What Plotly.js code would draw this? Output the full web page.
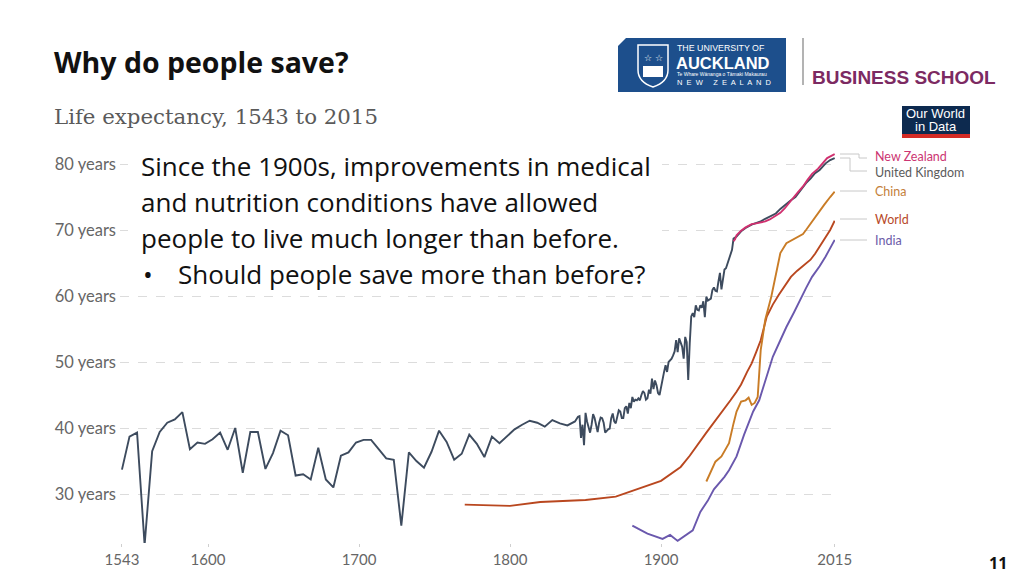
<!DOCTYPE html>
<html>
<head>
<meta charset="utf-8">
<script src="https://cdn.plot.ly/plotly-3.0.1.min.js"></script>
<style>
html,body{margin:0;padding:0;background:#fff;}
#chart{width:1024px;height:576px;}
</style>
</head>
<body>
<div id="chart"></div>
<script>
// ---------------- DATA ----------------
const ukYears = [1543,1548,1553,1558,1563,1568,1573,1578,1583,1588,1593,1598,1603,1608,1613,1618,1623,1628,1633,1638,1643,1648,1653,1658,1663,1668,1673,1678,1683,1688,1693,1698,1703,1708,1713,1718,1723,1728,1733,1738,1743,1748,1753,1758,1763,1768,1773,1778,1783,1788,1793,1798,1803,1808,1813,1818,1823,1828,1833,1838,1843,
1845,1846,1847,1848,1849,1850,1851,1852,1853,1854,1855,1856,1857,1858,1859,1860,1861,1862,1863,1864,1865,1866,1867,1868,1869,1870,1871,1872,1873,1874,1875,1876,1877,1878,1879,1880,1881,1882,1883,1884,1885,1886,1887,1888,1889,1890,1891,1892,1893,1894,1895,1896,1897,1898,1899,1900,1901,1902,1903,1904,1905,1906,1907,1908,1909,1910,1911,1912,1913,1914,1915,1916,1917,1918,1919,1920,1921,1922,1923,1924,1925,1926,1927,1928,1929,1930,1931,1932,1933,1934,1935,1936,1937,1938,1939,1940,1941,1942,1943,1944,1945,1946,1947,1948,1949,1950,1953,1956,1960,1963,1966,1969,1972,1976,1979,1982,1986,1989,1992,1996,1999,2002,2005,2009,2012,2015];
const ukLife = [33.7,38.7,39.3,22.3,36.5,39.4,40.8,41.3,42.4,36.8,37.8,37.6,38.3,39.3,36.7,40.0,33.2,39.4,39.4,33.8,36.2,39.6,38.9,32.8,33.0,32.2,37.0,32.2,31.0,35.8,36.3,37.8,38.2,38.2,36.8,35.4,35.2,25.2,36.3,35.0,34.0,36.4,39.6,37.9,35.2,36.1,39.0,37.6,35.6,38.7,37.7,38.7,39.8,40.5,41.1,40.8,40.2,41.2,40.7,40.4,41.0,
41.7,41.8,38.5,40.5,37.4,42.3,41.0,40.2,39.3,40.5,42.1,41.5,40.3,39.4,40.8,41.6,41.5,40.8,39.3,39.6,39.8,39.9,41.5,42.2,41.0,40.7,41.5,42.7,42.5,41.5,41.5,43.0,43.3,42.2,43.8,43.0,44.7,44.0,44.3,44.2,44.5,44.2,45.0,45.6,45.3,44.3,44.5,45.8,45.2,47.5,45.9,47.2,46.5,45.3,45.0,46.4,47.8,48.5,49.5,48.5,50.0,50.2,50.5,51.0,51.6,53.3,51.5,53.6,52.8,52.3,50.5,53.8,53.0,47.3,52.8,56.9,57.4,56.8,58.6,57.9,57.8,58.6,58.2,59.2,56.8,59.9,59.3,59.5,59.6,60.9,61.3,60.8,60.7,62.2,63.5,61.0,62.5,64.0,64.2,65.0,65.5,66.5,67.0,68.7,68.8,69.0,69.8,70.3,70.8,71.0,71.3,71.7,72.0,72.5,73.2,73.8,74.5,75.0,75.9,77.1,77.8,78.6,79.1,80.1,80.6,80.9];

const nzYears = [1948,1949,1950,1953,1956,1960,1963,1966,1969,1972,1976,1979,1982,1985,1988,1991,1994,1997,2000,2004,2007,2010,2015];
const nzLife  = [68.3,68.6,69.2,69.9,70.4,70.9,71.0,71.1,71.3,71.6,72.1,72.6,73.3,74.2,75.0,75.8,76.6,77.6,78.5,79.3,80.1,80.9,81.5];

const chinaYears = [1930,1933,1936,1940,1945,1948,1950,1953,1956,1958,1960,1962,1964,1966,1969,1973,1976,1979,1983,1989,1994,1996,2000,2004,2008,2012,2015];
const chinaLife  = [31.9,33.3,34.9,35.7,37.7,40.7,42.5,44.0,44.2,44.6,43.5,43.8,44.7,51.8,56.4,59.9,63.4,66.5,68.0,68.7,69.4,70.0,71.3,72.6,73.8,75.0,75.8];

const worldYears = [1770,1800,1820,1850,1870,1885,1900,1913,1919,1930,1940,1946,1950,1953,1957,1960,1963,1966,1970,1974,1978,1982,1986,1990,1994,1999,2002,2005,2009,2012,2015];
const worldLife  = [28.4,28.2,28.8,29.1,29.6,30.8,32.0,34.1,35.8,39.3,42.3,44.2,45.5,46.6,48.5,49.8,51.5,53.3,56.9,58.7,60.2,61.6,62.9,63.8,64.5,65.5,66.4,67.5,69.0,70.0,71.4];

const indiaYears = [1881,1891,1901,1906,1911,1921,1926,1931,1935,1942,1945,1950,1955,1958,1961,1965,1969,1974,1979,1983,1988,1992,1996,2000,2005,2009,2012,2015];
const indiaLife  = [25.2,24.0,23.2,23.8,22.9,24.5,27.3,29.0,30.7,32.6,33.6,35.7,39.0,40.7,42.5,44.2,47.3,50.8,53.3,55.3,57.5,59.4,61.2,62.9,64.5,66.0,67.2,68.5];

const xTickVals = [1543,1600,1700,1800,1900,2015];
const yTickVals = [30,40,50,60,70,80];
const yTickText = ["30 years","40 years","50 years","60 years","70 years","80 years"];

const seriesNames = ["New Zealand","United Kingdom","China","World","India"];

// ---------------- LAYOUT HELPERS ----------------
const W = 1024, H = 576;
const M = {l:120, r:189, t:151, b:33};
const PW = W - M.l - M.r, PH = H - M.t - M.b;
const px = x => (x - M.l) / PW;
const py = y => (H - M.b - y) / PH;

const colors = {
  uk: "#3d4b5e", nz: "#d0306f", china: "#c97c26", world: "#b9471f", india: "#6a58ad"
};
const labelColors = {
  nz: "#cc3572", uk: "#5b5b5b", china: "#c4803a", world: "#b8492a", india: "#6b5ca8"
};

function line(x, y, color, w) {
  return {x, y, type: "scatter", mode: "lines", line: {color, width: w || 1.9}, hoverinfo: "skip", showlegend: false};
}

const traces = [
  line(worldYears, worldLife, colors.world),
  line(indiaYears, indiaLife, colors.india),
  line(chinaYears, chinaLife, colors.china),
  line(ukYears, ukLife, colors.uk),
  line(nzYears, nzLife, colors.nz)
];

function seg(x0, y0, x1, y1, color, width) {
  return {type: "line", xref: "paper", yref: "paper", x0: px(x0), y0: py(y0), x1: px(x1), y1: py(y1),
          line: {color, width: width || 1}, layer: "above"};
}
function rect(x0, y0, x1, y1, fill) {
  return {type: "rect", xref: "paper", yref: "paper", x0: px(x0), y0: py(y0), x1: px(x1), y1: py(y1),
          fillcolor: fill, line: {width: 0}, layer: "above"};
}
function txt(text, x, y, size, color, opts) {
  opts = opts || {};
  return Object.assign({
    text, xref: "paper", yref: "paper", x: px(x), y: py(y), showarrow: false,
    xanchor: opts.xanchor || "left", yanchor: "middle", borderpad: 0,
    font: {family: opts.family || "Lato, sans-serif", size, color}
  }, opts.extra || {});
}

const legendGrey = "#c8c8c8";
const sans = "'Liberation Sans', Arial, sans-serif";
const body = "'Open Sans', sans-serif";
const shapes = [
  // white box behind text
  rect(128, 146, 662, 290, "#ffffff"),
  // legend connectors
  seg(840, 154, 859, 154, legendGrey), seg(859, 154, 859, 158, legendGrey), seg(859, 158, 867, 158, legendGrey),
  seg(840, 158, 850, 158, legendGrey), seg(850, 158, 850, 171, legendGrey), seg(850, 171, 867, 171, legendGrey),
  seg(840, 191, 867, 191, legendGrey),
  seg(840, 219, 867, 219, legendGrey),
  seg(840, 240, 867, 240, legendGrey),
  // Auckland logo block
  {type: "path", xref: "paper", yref: "paper",
   path: `M ${px(626)} ${py(38)} L ${px(786)} ${py(38)} L ${px(786)} ${py(92)} L ${px(618)} ${py(92)} L ${px(618)} ${py(46)} Z`,
   fillcolor: "#1d4f8c", line: {width: 0}, layer: "above"},
  // crest shield
  {type: "path", xref: "paper", yref: "paper",
   path: `M ${px(638)} ${py(45)} L ${px(668)} ${py(45)} L ${px(668)} ${py(70)} Q ${px(668)} ${py(82)} ${px(653)} ${py(87)} Q ${px(638)} ${py(82)} ${px(638)} ${py(70)} Z`,
   fillcolor: "rgba(0,0,0,0)", line: {color: "#ffffff", width: 1.5}, layer: "above"},
  rect(643, 66, 663, 77, "#ffffff"),
  // separator
  seg(803, 38, 803, 85, "#9a9a9a", 1.5),
  // Our World in Data box
  rect(902, 106, 970, 135, "#0d2a4f"),
  rect(902, 134, 970, 138, "#d42b25")
];

const annotations = [
  txt("<b>Why do people save?</b>", 53, 62, 28.5, "#111111", {family: body}),
  txt("Life expectancy, 1543 to 2015", 53, 117, 21.3, "#5a5a5a", {family: "'DejaVu Serif', serif"}),
  txt("Since the 1900s, improvements in medical", 140, 166, 26, "#111111", {family: body}),
  txt("and nutrition conditions have allowed", 140, 202, 26, "#111111", {family: body}),
  txt("people to live much longer than before.", 140, 238, 26, "#111111", {family: body}),
  txt("•", 142, 274, 26, "#111111", {family: body}),
  txt("Should people save more than before?", 177, 274, 26, "#111111", {family: body}),
  // legend labels
  txt(seriesNames[0], 874, 157, 12.5, labelColors.nz),
  txt(seriesNames[1], 874, 172, 12.5, labelColors.uk),
  txt(seriesNames[2], 874, 191, 12.5, labelColors.china),
  txt(seriesNames[3], 874, 219, 12.5, labelColors.world),
  txt(seriesNames[4], 874, 240, 12.5, labelColors.india),
  // Auckland logo text
  txt("THE UNIVERSITY OF", 676, 48, 8.8, "#ffffff", {family: sans}),
  txt("<b>AUCKLAND</b>", 675, 62.5, 16.5, "#ffffff", {family: sans}),
  txt("Te Whare Wānanga o Tāmaki Makaurau", 676, 73.5, 5, "#ffffff", {family: sans}),
  txt("N  E  W     Z  E  A  L  A  N  D", 676, 83, 7.5, "#ffffff", {family: sans}),
  txt("☆ ☆", 653, 58, 9, "#ffffff", {xanchor: "center", family: "'DejaVu Sans', sans-serif"}),
  txt("<b>BUSINESS SCHOOL</b>", 811, 77, 19, "#7c2a62", {family: sans}),
  // OWID
  txt("Our World", 936, 114, 13, "#ffffff", {xanchor: "center", family: sans}),
  txt("in Data", 936, 127, 13, "#ffffff", {xanchor: "center", family: sans}),
  // page number
  txt("<b>11</b>", 998, 563, 16, "#111111", {xanchor: "center", family: body})
];

const layout = {
  width: W, height: H,
  margin: M,
  paper_bgcolor: "#ffffff", plot_bgcolor: "rgba(0,0,0,0)",
  showlegend: false,
  xaxis: {
    range: [1541.7, 2015.2], tickvals: xTickVals, ticktext: xTickVals.map(String),
    showgrid: false, zeroline: false, showline: false,
    ticks: "outside", ticklen: 3, tickcolor: "#cfcfcf", tickwidth: 1,
    tickfont: {family: "Lato, sans-serif", size: 15, color: "#666666"}
  },
  yaxis: {
    range: [22.58, 81.97], tickvals: yTickVals, ticktext: yTickText,
    showgrid: true, gridcolor: "#dcdcdc", griddash: "dash", gridwidth: 1,
    zeroline: false, showline: false, ticks: "", ticklabelstandoff: 3,
    tickfont: {family: "Lato, sans-serif", size: 16.5, color: "#666666"}
  },
  shapes, annotations
};

Plotly.newPlot("chart", traces, layout, {staticPlot: true, displayModeBar: false});
</script>
</body>
</html>
